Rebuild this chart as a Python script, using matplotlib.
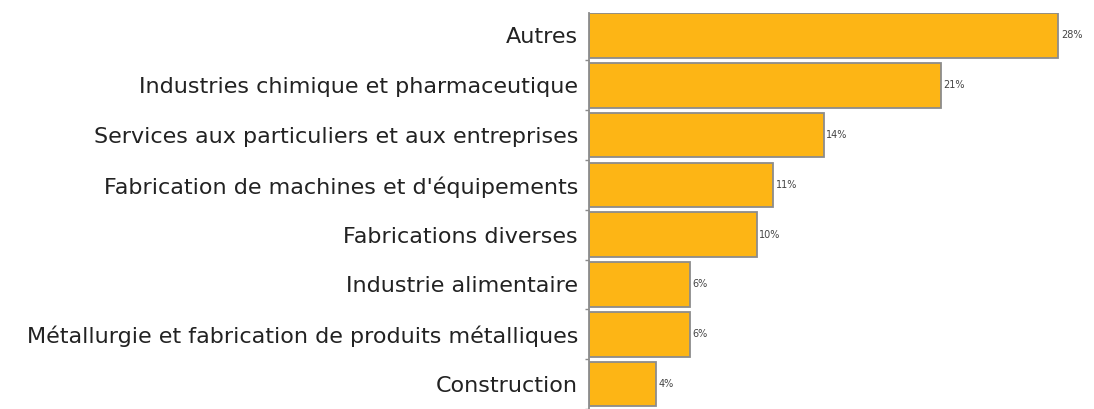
"""Horizontal bar chart: sector breakdown."""

import matplotlib

matplotlib.use("Agg")
import matplotlib.pyplot as plt

categories = [
    "Autres",
    "Industries chimique et pharmaceutique",
    "Services aux particuliers et aux entreprises",
    "Fabrication de machines et d'équipements",
    "Fabrications diverses",
    "Industrie alimentaire",
    "Métallurgie et fabrication de produits métalliques",
    "Construction",
]
shares = [28, 21, 14, 11, 10, 6, 6, 4]
value_labels = ["28%", "21%", "14%", "11%", "10%", "6%", "6%", "4%"]

BAR_COLOR = "#FDB515"
EDGE_COLOR = "#8C8C8C"

fig = plt.figure(figsize=(10.94, 4.09), dpi=100)
ax = fig.add_axes([589 / 1094, 0, 1 - 589 / 1094 - 0.002, 1 - 13 / 409])

positions = list(range(len(categories)))
ax.barh(positions, shares, height=0.895, color=BAR_COLOR,
        edgecolor=EDGE_COLOR, linewidth=1.3)

for y, value, label in zip(positions, shares, value_labels):
    ax.annotate(label, (value, y), xytext=(2, 0), textcoords="offset points",
                va="center", ha="left", fontsize=7, color="#444444")

ax.set_xlim(0, 30)
ax.set_ylim(7.42, -0.45)
ax.set_yticks(positions)
ax.set_yticklabels(categories, fontsize=16, color="#222222")
ax.set_yticks([p + 0.5 for p in positions], minor=True)
ax.tick_params(axis="y", which="major", length=0, pad=8)
ax.tick_params(axis="y", which="minor", length=3, color=EDGE_COLOR, width=1)
ax.set_xticks([])

for side in ("top", "right", "bottom"):
    ax.spines[side].set_visible(False)
ax.spines["left"].set_color(EDGE_COLOR)
ax.spines["left"].set_linewidth(1.3)

fig.savefig("out.png", dpi=100)
